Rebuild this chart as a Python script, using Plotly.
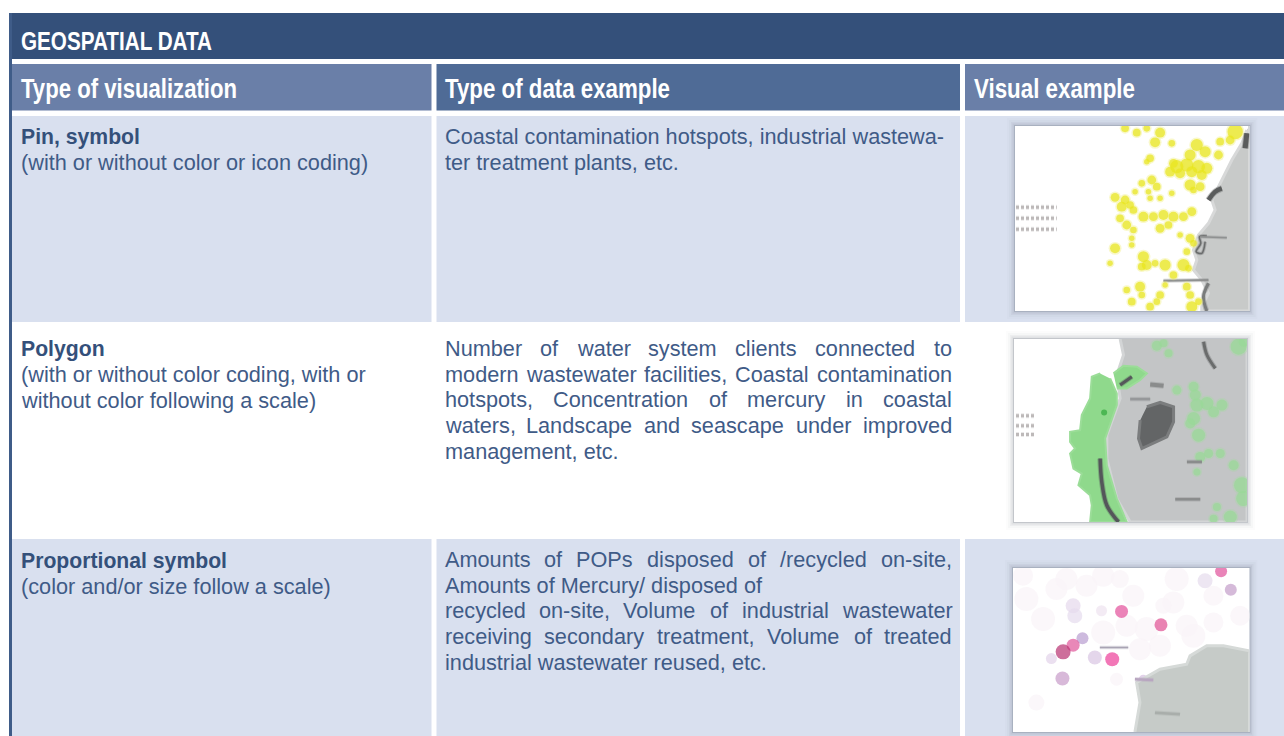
import json
import plotly.graph_objects as go

# ---- text content ----
title = "GEOSPATIAL DATA"
headers = ["Type of visualization", "Type of data example", "Visual example"]
row_names = ["Pin, symbol", "Polygon", "Proportional symbol"]
row_notes = [
    ["(with or without color or icon coding)"],
    ["(with or without color coding, with or", "without color following a scale)"],
    ["(color and/or size follow a scale)"],
]
row_examples = [
    [("Coastal contamination hotspots, industrial wastewa-", False), ("ter treatment plants, etc.", False)],
    [("Number of water system clients connected to", True),
     ("modern wastewater facilities, Coastal contamination", True),
     ("hotspots, Concentration of mercury in coastal", True),
     ("waters, Landscape and seascape under improved", True),
     ("management, etc.", False)],
    [("Amounts of POPs disposed of /recycled on-site,", True),
     ("Amounts of Mercury/ disposed of", False),
     ("recycled on-site, Volume of industrial wastewater", True),
     ("receiving secondary treatment, Volume of treated", True),
     ("industrial wastewater reused, etc.", False)],
]

# ---- thumbnail 1: pin map, read in crop coordinates ----
m1_land_x = [860,845,815,790,770,755,765,745,715,700,710,700,725,745,725,725,868,868]
m1_land_y = [60,100,150,200,235,270,300,340,375,420,450,480,510,550,590,603,603,48]
m1_pin_x = [495,530,560,600,585,635,570,560,825,810,780,775,710,735,690,680,650,630,715,740,725,660,695,640,690,720,700,
            575,590,545,525,565,635,600,570,465,495,510,485,480,520,550,580,610,640,670,695,600,625,500,520,515,515,465,660,690,700,680,450,
            550,560,545,585,615,670,685,640,500,540,545,515,600,590,570,680,690,695,715,615]
m1_pin_y = [55,68,55,68,97,100,145,155,65,90,95,135,105,125,135,165,170,185,170,175,195,190,185,160,225,230,240,
            210,230,220,245,245,250,265,265,262,270,285,290,325,300,320,320,315,320,320,305,355,345,345,360,385,405,415,375,385,400,425,460,
            440,465,470,460,465,465,475,495,540,530,555,575,555,575,590,530,555,590,575,525]
m1_pin_s = [7,7,6,9,9,6,7,5,14,8,7,8,11,10,10,12,12,9,12,10,9,9,10,8,10,8,6,
            8,7,6,5,5,5,5,5,8,8,7,9,7,7,9,8,9,9,8,8,8,7,8,6,5,5,9,5,8,6,6,5,
            10,9,7,6,10,11,6,7,6,9,6,7,7,6,7,7,7,10,6,5]

# ---- thumbnail 2: polygon map ----
m2_land_x = [480,490,470,480,440,440,470,510,860,860]
m2_land_y = [42,90,150,220,330,400,520,590,590,42]
m2_strip_x = [420,395,390,365,360,330,330,345,330,340,365,355,390,395,390,500,470,440,435,470,470,450]
m2_strip_y = [145,155,220,270,315,320,350,370,385,430,445,480,510,540,590,590,520,420,340,240,205,160]
m2_patch_x = [460,490,530,560,540,500,470]
m2_patch_y = [145,122,125,145,165,190,190]
m2_lake_x = [560,600,640,640,620,590,545,535,540]
m2_lake_y = [245,232,245,290,335,350,370,340,285]
m2_spot_x = [590,625,835,850,650,700,705,710,740,700,690,760,785,715,780,745,720,820,845,850,810,770,760,710,610]
m2_spot_y = [62,85,65,50,195,185,210,240,235,280,295,260,240,330,385,385,395,420,480,520,575,545,580,440,55]
m2_spot_s = [10,8,16,10,9,10,11,13,13,13,10,11,11,13,9,9,10,10,16,15,13,8,8,7,8]

# ---- thumbnail 3: proportional symbol map ----
m3_land_x = [525,540,530,600,680,690,740,790,868,868]
m3_land_y = [588,500,440,400,385,360,330,330,345,588]
m3_sym_x = [190,250,290,380,430,520,560,640,700,760,840,610,470,600,680,230,480,540,430,200,320,500,650,760,
            340,345,425,735,275,405,550,812,308,368,783,603,485,340,457,310]
m3_sym_y = [120,250,160,150,290,180,280,200,300,260,240,210,430,330,270,500,130,340,120,190,130,270,130,180,
            210,240,225,135,368,365,430,162,428,307,107,267,227,328,370,348]
m3_sym_s = [20,24,22,22,24,22,24,22,24,20,20,16,13,22,22,16,18,22,22,24,22,22,24,20,
            15,15,11,15,11,14,9,12,14,12,12,13,13,13,14,15]
m3_sym_c = ["#f9f4f8"]*24 + ["#e5d8ec","#e6dcee","#eee3f0","#e6dcec","#e3d3ea","#d9c4e2","#d6bfdf",
            "#c39cc9","#c79bc9","#b89cd0","#e0509a","#e04f92","#e24f9a","#e0559a","#ec3d98","#b83070"]

# ---- colours ----
NAVY, INK, HEAD_L, HEAD_D, CELL = "#34507a", "#3f5b87", "#6a7fa8", "#4f6b96", "#d9e0ef"
BODY_FONT = "Liberation Sans"
BODY_SIZE = 21.7

# Helvetica metrics, used to spread justified lines to the column width
W = dict(a=556,b=556,c=500,d=556,e=556,f=278,g=556,h=556,i=222,j=222,k=500,l=222,m=833,n=556,o=556,p=556,q=556,
         r=333,s=500,t=278,u=556,v=500,w=722,x=500,y=500,z=500,A=667,C=722,L=556,M=833,N=722,O=778,P=667,V=667)
W.update({" ":278, ",":278, ".":278, "-":333, "/":278})
def width(s, size=BODY_SIZE):
    return sum(W.get(c, 556) for c in s) * size / 1000

fig = go.Figure()
shapes, notes = [], []

def rect(x0, y0, x1, y1, color, opacity=1):
    shapes.append(dict(type="rect", xref="x", yref="y", x0=x0, y0=y0, x1=x1, y1=y1, fillcolor=color,
                       opacity=opacity, line_width=0, layer="below"))

def label(x, y, text, size=BODY_SIZE, color=INK, weight=400):
    notes.append(dict(xref="x", yref="y", x=x, y=y, xanchor="left", yanchor="middle", showarrow=False,
                      align="left", borderpad=0, borderwidth=0, text=text,
                      font=dict(size=size, color=color, family=BODY_FONT, weight=weight)))

# frame
rect(9, 13, 1284, 59, NAVY)
rect(9, 13, 12, 736, "#3f5c88")
rect(12, 64, 431.5, 110.5, HEAD_L)
rect(436.5, 64, 960, 110.5, HEAD_D)
rect(965, 64, 1284, 110.5, HEAD_L)
ROW_SPANS = [(116, 322, True), (322, 539, False), (539, 736, True)]
for y0, y1, filled in ROW_SPANS:
    if filled:
        rect(12, y0, 431.5, y1, CELL)
        rect(436.5, y0, 960, y1, CELL)
        rect(965, y0, 1284, y1, CELL)

label(21, 41, title, size=26, color="white", weight=700)
for x, text in zip([21, 445, 974], headers):
    label(x, 88.5, text, size=28, color="white", weight=700)

# text columns
NAME_Y = [137, 349, 561]
EX_Y = [136.5, 348.5, 559.5]
for name, lines, yn in zip(row_names, row_notes, NAME_Y):
    label(21, yn, name, size=21.2, color=NAVY, weight=700)
    for i, t in enumerate(lines):
        label(21, yn + 25.5 * (i + 1), t)
LEFT, RIGHT = 444.5, 952
for lines, ye in zip(row_examples, EX_Y):
    for i, (t, just) in enumerate(lines):
        y = ye + 25.7 * i
        if not just:
            label(LEFT, y, t)
            continue
        words = t.split(" ")
        gap = (RIGHT - LEFT - sum(width(w) for w in words)) / (len(words) - 1)
        x = LEFT
        for w in words:
            label(x, y, w)
            x += width(w) + gap

# thumbnails: each has its own axes, ranged in crop coordinates
BOXES = [((1015, 1249.5, 126, 311), (165, 868, 603, 48)),
         ((1014, 1247, 339, 522), (162, 860, 590, 42)),
         ((1013, 1249.5, 568, 732), (160, 868, 588, 97))]
layout_axes = {}
for k, ((x0, x1, y0, y1), (a, b, c, d)) in enumerate(BOXES):
    n = k + 2
    for pad, op in [(8, .02), (6, .03), (4, .05), (2.5, .08), (1, .2)]:
        rect(x0 - pad, y0 - pad, x1 + pad, y1 + pad, "#4f5868", op)
    rect(x0, y0, x1, y1, "white")
    layout_axes[f"xaxis{n}"] = dict(domain=[x0 / 1284, x1 / 1284], range=[a, b], visible=False, anchor=f"y{n}", fixedrange=True)
    layout_axes[f"yaxis{n}"] = dict(domain=[1 - y1 / 736, 1 - y0 / 736], range=[c, d], visible=False, anchor=f"x{n}", fixedrange=True)

def poly(n, xs, ys, color, edge=None, w=3):
    fig.add_trace(go.Scatter(x=xs, y=ys, xaxis=f"x{n}", yaxis=f"y{n}", mode="lines", fill="toself", fillcolor=color,
                             line=dict(color=edge or color, width=w), hoverinfo="skip", showlegend=False))

def stroke(n, xs, ys, color, w, dash="solid", opacity=1):
    fig.add_trace(go.Scatter(x=xs, y=ys, xaxis=f"x{n}", yaxis=f"y{n}", mode="lines", opacity=opacity * .35,
                             line=dict(color=color, width=w + 2, dash=dash, shape="spline"), hoverinfo="skip", showlegend=False))
    fig.add_trace(go.Scatter(x=xs, y=ys, xaxis=f"x{n}", yaxis=f"y{n}", mode="lines", opacity=opacity,
                             line=dict(color=color, width=w, dash=dash, shape="spline"), hoverinfo="skip", showlegend=False))

def dots(n, xs, ys, sizes, color, opacity=1, grow=0.0, scale=1.0):
    fig.add_trace(go.Scatter(x=xs, y=ys, xaxis=f"x{n}", yaxis=f"y{n}", mode="markers", opacity=opacity,
                             marker=dict(size=[s * scale + grow for s in sizes], color=color, line_width=0),
                             hoverinfo="skip", showlegend=False))

LEGEND_DASH = "3px,2px"
# map 1
poly(2, m1_land_x, m1_land_y, "#c8cac9", "#d8d9d9")
stroke(2, [745, 765, 785], [270, 245, 235], "#5a5c5c", 4.5)
stroke(2, [860, 855], [70, 115], "#5a5c5c", 5)
stroke(2, [740, 718, 722, 708, 725, 735], [378, 380, 400, 425, 430, 395], "#6a6c6c", 1.5)
stroke(2, [720, 800], [380, 383], "#8f9191", 1.5)
stroke(2, [610, 745], [512, 510], "#8f9191", 2)
stroke(2, [745, 730, 740], [520, 560, 603], "#7a7c7c", 3)
for yy in [292, 325, 358]:
    stroke(2, [168, 290], [yy, yy], "#b3aeae", 3, LEGEND_DASH, .8)
dots(2, m1_pin_x, m1_pin_y, m1_pin_s, "#efed6a", .5, 3, 1.1)
dots(2, m1_pin_x, m1_pin_y, m1_pin_s, "#e8e61c", 1, 0, 1.1)

# map 2
poly(3, m2_land_x, m2_land_y, "#c3c5c6", "#d3d5d6")
dots(3, m2_spot_x, m2_spot_y, m2_spot_s, "#a5dca3", .5, 3)
dots(3, m2_spot_x, m2_spot_y, m2_spot_s, "#98d897")
poly(3, m2_strip_x, m2_strip_y, "#8fd98c", "#9bdd98", 2)
poly(3, m2_patch_x, m2_patch_y, "#8fd98c", "#9bdd98", 2)
poly(3, m2_lake_x, m2_lake_y, "#636566", "#7b7d7e")
stroke(3, [730, 740, 765], [50, 90, 130], "#6a6c6c", 3)
stroke(3, [420, 425, 440, 475], [400, 470, 540, 590], "#54565a", 3.5)
stroke(3, [480, 515], [180, 155], "#55575a", 3)
stroke(3, [570, 610], [178, 182], "#8a8c8c", 4)
stroke(3, [645, 720], [522, 522], "#8a8c8c", 2.5)
stroke(3, [510, 570], [222, 222], "#96989a", 2.5)
stroke(3, [680, 725], [410, 410], "#8a8c8c", 2.5)
dots(3, [432], [262], [6], "#2fa83a")
for yy in [272, 302, 328]:
    stroke(3, [168, 225], [yy, yy], "#b3aeae", 3, LEGEND_DASH, .8)

# map 3
dots(4, m3_sym_x, m3_sym_y, m3_sym_s, m3_sym_c)
poly(4, m3_land_x, m3_land_y, "#c6cbc8", "#d6dad8")
stroke(4, [420, 505], [335, 335], "#a9a4b4", 1.5)
stroke(4, [525, 580], [430, 432], "#b8a6c0", 2.5)
stroke(4, [585, 660], [530, 535], "#a9aeab", 2.5)

fig.update_layout(
    width=1284, height=736, autosize=False, margin=dict(l=0, r=0, t=0, b=0),
    paper_bgcolor="white", plot_bgcolor="rgba(0,0,0,0)", showlegend=False,
    xaxis=dict(domain=[0, 1], range=[0, 1284], visible=False, fixedrange=True),
    yaxis=dict(domain=[0, 1], range=[736, 0], visible=False, fixedrange=True),
    shapes=shapes, annotations=notes, **layout_axes,
)

# The reference's headings are set in a condensed face; no such face is installed, so the
# real text elements are fitted to the widths they have in the reference.
head_widths = {title: 191, headers[0]: 216, headers[1]: 225, headers[2]: 161}
post = """
document.body.style.margin='0';document.documentElement.style.overflow='hidden';
var fit=%s;
function fitHeads(){document.querySelectorAll('text.annotation-text').forEach(function(t){
  var w=fit[t.textContent]; if(!w||t.getAttribute('textLength')) return;
  var b=t.getBBox(); t.setAttribute('text-anchor','start'); t.setAttribute('x',b.x);
  t.setAttribute('textLength',w); t.setAttribute('lengthAdjust','spacingAndGlyphs');});}
fitHeads(); setTimeout(fitHeads,50); setTimeout(fitHeads,300);
""" % json.dumps(head_widths)
fig.write_html("out.html", config=dict(displayModeBar=False), post_script=post)
